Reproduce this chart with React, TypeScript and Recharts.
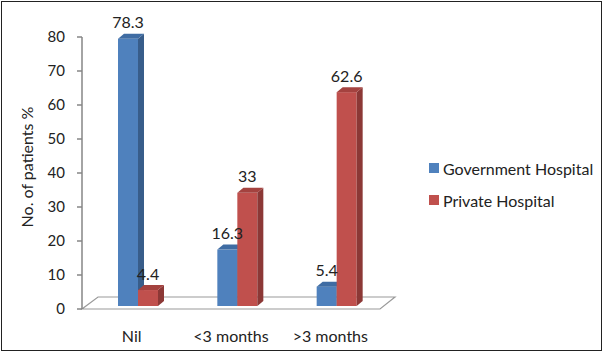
import { Bar, BarChart, XAxis, YAxis, LabelList, ReferenceLine } from 'recharts';

const categories = ['Nil', '<3 months', '>3 months'];
const governmentValues = [78.3, 16.3, 5.4];
const privateValues = [4.4, 33, 62.6];
const yTicks = [0, 10, 20, 30, 40, 50, 60, 70, 80];

const series = [
    { key: 'government', name: 'Government Hospital', front: '#4F81BD', side: '#385D8A', top: '#3F6CA3' },
    { key: 'private', name: 'Private Hospital', front: '#C0504D', side: '#8C3836', top: '#A4423F' },
];

const data = categories.map((name, i) => ({
    name,
    government: governmentValues[i],
    private: privateValues[i],
}));

const FONT = 'Lato, "Liberation Sans", sans-serif';
const DX = 6; // depth offset of the 3d look
const DY = 5;

function make3DBar(front: string, side: string, top: string) {
    return (props: any) => {
        const { x, y, width, height } = props;
        const x0 = x + DX;
        const t = y - 4;
        const b = y + height - 3;
        const w = width;
        return (
            <g>
                <rect x={x0} y={t} width={w} height={b - t} fill={front} />
                <polygon points={`${x0 + w},${t} ${x0 + w + DX},${t - DY} ${x0 + w + DX},${b - DY} ${x0 + w},${b}`} fill={side} />
                <polygon points={`${x0},${t} ${x0 + w},${t} ${x0 + w + DX},${t - DY} ${x0 + DX},${t - DY}`} fill={top} />
            </g>
        );
    };
}

const valueLabel = (props: any) => {
    const { x, y, width, value } = props;
    return (
        <text x={x + DX + width / 2} y={y - 21} textAnchor="middle" dominantBaseline="central"
            fontFamily={FONT} fontSize={16} fill="#222">
            {value}
        </text>
    );
};

const floor = (props: any) => {
    const { x1, x2, y1 } = props;
    const pts = `${x1},${y1} ${x2},${y1} ${x2 + 15},${y1 - 12} ${x1 + 16},${y1 - 12}`;
    return <polygon points={pts} fill="#fff" stroke="#9a9a9a" strokeWidth={1.2} />;
};

export default function App() {
    return (
        <div style={{ position: 'fixed', left: 0, top: 0, width: 604, height: 353, background: '#fff' }}>
            <div style={{ position: 'absolute', left: 1, top: 1, width: 601, height: 350, border: '1.5px solid #222', boxSizing: 'border-box' }} />
            <BarChart width={604} height={353} data={data} barGap={0} barSize={20}
                margin={{ top: 37, right: 224, bottom: 14, left: 22 }}>
                <ReferenceLine y={0} shape={floor} zIndex={-1} />
                <XAxis dataKey="name" height={30} axisLine={false} tickLine={false} tickSize={0} tickMargin={22}
                    tick={{ fill: '#222', fontSize: 16, fontFamily: FONT }} interval={0} />
                <YAxis domain={[0, 80]} ticks={yTicks} width={60} tickSize={5} tickMargin={12}
                    axisLine={{ stroke: '#868686', strokeWidth: 1.5 }} tickLine={{ stroke: '#868686', strokeWidth: 1.5 }}
                    tick={{ fill: '#222', fontSize: 15, fontFamily: FONT }}
                    label={{ value: 'No. of patients %', angle: -90, position: 'center', dx: -25, dy: -6, fill: '#222', fontSize: 16, fontFamily: FONT }} />
                {series.map((s) => (
                    <Bar key={s.key} dataKey={s.key} name={s.name} fill={s.front}
                        shape={make3DBar(s.front, s.side, s.top)} isAnimationActive={false}>
                        <LabelList dataKey={s.key} content={valueLabel} />
                    </Bar>
                ))}
            </BarChart>
            <div style={{ position: 'absolute', left: 429, top: 158, fontFamily: FONT, fontSize: 16, color: '#222' }}>
                {series.map((s) => (
                    <div key={s.key} style={{ display: 'flex', alignItems: 'center', height: 20, marginBottom: 12 }}>
                        <span style={{ width: 10, height: 10, background: s.front, marginRight: 4, display: 'inline-block' }} />
                        <span>{s.name}</span>
                    </div>
                ))}
            </div>
        </div>
    );
}
